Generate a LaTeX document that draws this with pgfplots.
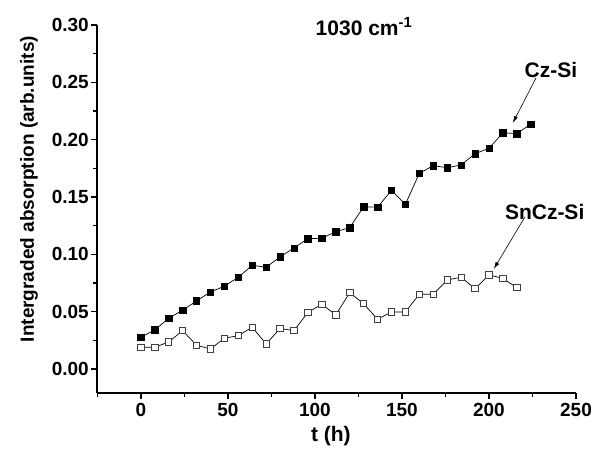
\documentclass[border=0pt]{standalone}
\usepackage{pgfplots}
\pgfplotsset{compat=1.18}
\usepackage{fontspec}
\setmainfont{Liberation Sans}
\usetikzlibrary{calc,arrows.meta}
\newcommand{\fs}[1]{\fontsize{#1bp}{#1bp}\selectfont\bfseries}
\begin{document}
\begin{tikzpicture}
\begin{axis}[
  name=ax,
  scale only axis, width=478.7bp, height=368bp,
  xmin=-25, xmax=250, ymin=-0.021, ymax=0.30,
  axis x line*=bottom, axis y line*=left,
  clip=false,
  xtick={0,50,...,250}, minor xtick={-25,25,75,125,175,225},
  ytick={0,0.05,0.10,0.15,0.20,0.25,0.30},
  minor ytick={0.025,0.075,0.125,0.175,0.225,0.275},
  tick align=outside,
  major tick length=6bp, minor tick length=4bp,
  every tick/.style={black, line width=1.4bp},
  axis line style={line width=1.6bp},
  /pgf/number format/assume math mode=true,
  xticklabel style={font=\fs{19}, yshift=-1bp},
  yticklabel style={font=\fs{19}, xshift=1bp, /pgf/number format/.cd, fixed, fixed zerofill, precision=2},
  ylabel={Intergraded absorption (arb.units)},
  xlabel={t (h)},
  ylabel style={font=\fs{19}, at={(axis description cs:-0.1427,0.554)}, anchor=center},
  xlabel style={font=\fs{21}, at={(axis description cs:0.488,-0.118)}, anchor=center},
]
\addplot[black, line width=0.7bp, mark=square*, mark size=3.2bp, mark options={fill=black, draw=black, line width=0.5bp}] table {
t y
0 0.0276
8 0.0340
16 0.0442
24 0.0512
32 0.0593
40 0.0671
48 0.0721
56 0.0800
64 0.0904
72 0.0887
80 0.0977
88 0.1055
96 0.1136
104 0.1140
112 0.1197
120 0.1232
128 0.1415
136 0.1410
144 0.1558
152 0.1436
160 0.1706
168 0.1773
176 0.1755
184 0.1779
192 0.1877
200 0.1924
208 0.2060
216 0.2052
224 0.2136
};
\addplot[black, line width=0.7bp, mark=square*, mark size=3.2bp, mark options={fill=white, draw=black!75, line width=0.8bp}] table {
t y
0 0.0189
8 0.0189
16 0.0235
24 0.0334
32 0.0207
40 0.0174
48 0.0268
56 0.0290
64 0.0364
72 0.0218
80 0.0353
88 0.0334
96 0.0494
104 0.0564
112 0.0471
120 0.0665
128 0.0569
136 0.0433
144 0.0497
152 0.0497
160 0.0651
168 0.0651
176 0.0776
184 0.0800
192 0.0700
200 0.0820
208 0.0790
216 0.0709
};
\node[font=\fs{21}, anchor=base] at (axis cs:128.2,0.2912) {1030 cm\textsuperscript{-1}};
\node[font=\fs{21}] at (axis cs:235.6,0.2607) {Cz-Si};
\node[font=\fs{21}] at (axis cs:232,0.137) {SnCz-Si};
\draw[-{Latex[length=7bp,width=4bp]}, line width=0.6bp] (axis cs:227,0.2538) -- (axis cs:213.7,0.2145);
\draw[-{Latex[length=7bp,width=4bp]}, line width=0.6bp] (axis cs:220.6,0.1325) -- (axis cs:202.8,0.0872);
\end{axis}
\pgfresetboundingbox
\path[use as bounding box] ($(ax.south west)+(-97.3bp,-58bp)$) rectangle ($(ax.north east)+(23bp,25bp)$);
\end{tikzpicture}
\end{document}
